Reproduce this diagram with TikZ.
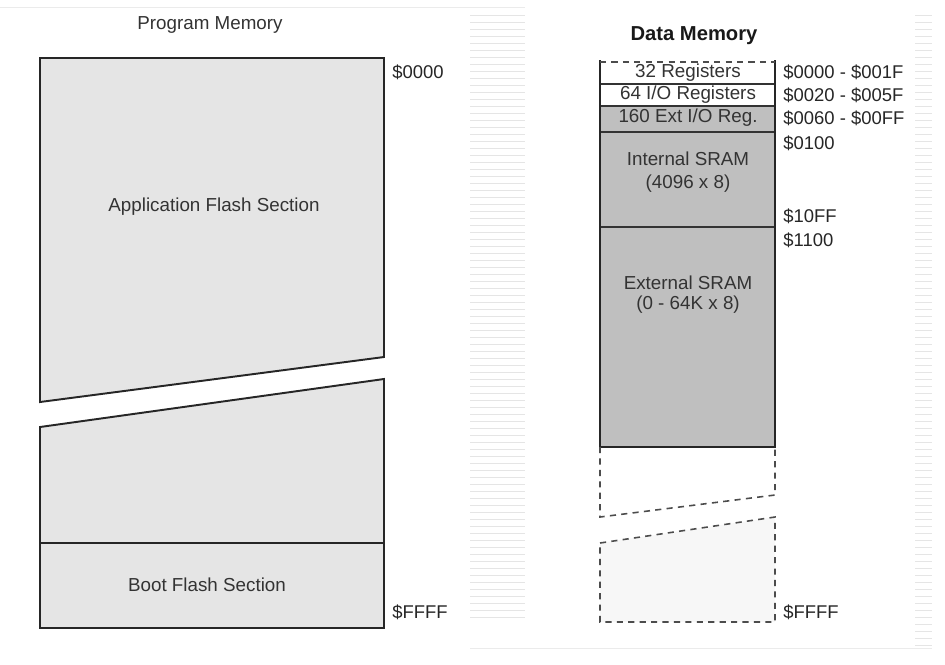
\documentclass[tikz,border=0pt]{standalone}
\usepackage{fontspec}
\setmainfont{Liberation Sans}
\begin{document}
\begin{tikzpicture}[x=0.02cm,y=-0.02cm,
 lbl/.style={font=\fontsize{10.7pt}{13pt}\selectfont,text=black!80,align=center},
 addr/.style={font=\fontsize{10.5pt}{12pt}\selectfont,text=black!85,anchor=west,inner sep=0pt},
 flashbox/.style={fill=black!10,draw=black!85,line width=1.1pt},
 gapline/.style={draw=black!70,line width=0.9pt,dash pattern=on 3.5pt off 3pt}]
\useasboundingbox (0,0) rectangle (945,664);
% faint scan stripes
\draw[black!8] (0,7) -- (525,7);
\draw[black!8] (470,648) -- (932,648);
\foreach\y in {15,22,...,620}{
 \draw[black!10] (470,\y) -- (525,\y);
}
\foreach\y in {15,22,...,645}{
 \draw[black!10] (915,\y) -- (932,\y);
}
% program memory
\node[lbl] (ptitle) at (210,25) {Program Memory};
\draw[flashbox] (40,58) -- (384,58) -- (384,357) -- (40,402) -- cycle;
\draw[flashbox] (40,427) -- (384,379) -- (384,628) -- (40,628) -- cycle;
\draw[black!85,line width=1.1pt] (40,543) -- (384,543);
\node[lbl] (app) at (214,207) {Application Flash Section};
\node[lbl] (boot) at (207,585) {Boot Flash Section};
\node[addr] (p0) at (392,72) {\$0000};
\node[addr] (pf) at (392,612) {\$FFFF};
% data memory
\node[lbl,font=\fontsize{11.5pt}{13pt}\selectfont\bfseries,text=black!90] (dtitle) at (694,36) {Data Memory};
\fill[white] (600,62) rectangle (775,106);
\fill[black!25] (600,106) rectangle (775,447);
\draw[black!80,line width=0.7pt] (600,84) -- (775,84);
\draw[black!80,line width=1pt] (600,106) -- (775,106);
\draw[black!80,line width=0.7pt] (600,132) -- (775,132);
\draw[black!80,line width=1pt] (600,227) -- (775,227);
\draw[black!85,line width=1.2pt] (600,60) -- (600,447) -- (775,447) -- (775,60);
\draw[gapline] (600,62) -- (775,62);
\draw[gapline] (600,447) -- (600,517) -- (775,495) -- (775,447);
\draw[gapline,fill=black!3] (600,543) -- (775,517) -- (775,622) -- (600,622) -- cycle;
\node[lbl] (r32) at (688,73) {32 Registers};
\node[lbl] (r64) at (688,95) {64 I/O Registers};
\node[lbl] (r160) at (688,118) {160 Ext I/O Reg.};
\node[lbl] (isram) at (688,172) {Internal SRAM\\(4096 x 8)};
\node[lbl,font=\fontsize{10.7pt}{11.5pt}\selectfont] (esram) at (688,295) {External SRAM\\(0 - 64K x 8)};
\node[addr] (a0) at (783,72) {\$0000 - \$001F};
\node[addr] (a1) at (783,95) {\$0020 - \$005F};
\node[addr] (a2) at (783,118) {\$0060 - \$00FF};
\node[addr] (a3) at (783,143) {\$0100};
\node[addr] (a4) at (783,216) {\$10FF};
\node[addr] (a5) at (783,240) {\$1100};
\node[addr] (af) at (783,612) {\$FFFF};
\end{tikzpicture}
\end{document}
